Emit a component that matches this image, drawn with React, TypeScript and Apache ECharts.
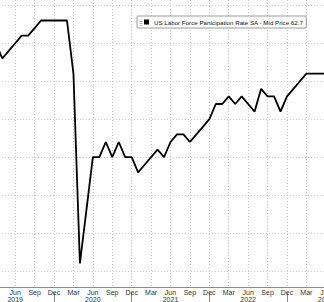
import React, { useEffect, useRef } from "react";
import * as echarts from "echarts";

const MONTHS = ["Jan", "Feb", "Mar", "Apr", "May", "Jun", "Jul", "Aug", "Sep", "Oct", "Nov", "Dec"];

// Monthly categories Mar 2019 .. Jun 2023
const categories: string[] = [
  "2019-03", "2019-04", "2019-05", "2019-06", "2019-07", "2019-08", "2019-09", "2019-10", "2019-11", "2019-12",
  "2020-01", "2020-02", "2020-03", "2020-04", "2020-05", "2020-06", "2020-07", "2020-08", "2020-09", "2020-10", "2020-11", "2020-12",
  "2021-01", "2021-02", "2021-03", "2021-04", "2021-05", "2021-06", "2021-07", "2021-08", "2021-09", "2021-10", "2021-11", "2021-12",
  "2022-01", "2022-02", "2022-03", "2022-04", "2022-05", "2022-06", "2022-07", "2022-08", "2022-09", "2022-10", "2022-11", "2022-12",
  "2023-01", "2023-02", "2023-03", "2023-04", "2023-05", "2023-06",
];

const participation: number[] = [
  63.0, 62.8, 62.9, 63.0, 63.1, 63.1, 63.2, 63.3, 63.3, 63.3,
  63.3, 63.3, 62.6, 60.1, 60.8, 61.5, 61.5, 61.7, 61.5, 61.7, 61.5, 61.5,
  61.3, 61.4, 61.5, 61.6, 61.5, 61.7, 61.8, 61.8, 61.7, 61.8, 61.9, 62.0,
  62.2, 62.2, 62.3, 62.2, 62.3, 62.2, 62.1, 62.4, 62.3, 62.3, 62.1, 62.3,
  62.4, 62.5, 62.6, 62.6, 62.6, 62.6,
];

const gridValues: number[] = [60.0, 60.5, 61.0, 61.5, 62.0, 62.5, 63.0, 63.5];

const seriesName = "US Labor Force Participation Rate SA - Mid Price 62.7";

const monthOf = (c: string) => parseInt(c.slice(5, 7), 10);
const isQuarterLabel = (c: string) => [3, 6, 9, 12].includes(monthOf(c));

export default function App() {
  const ref = useRef<HTMLDivElement>(null);
  useEffect(() => {
    if (!ref.current) return;
    const chart = echarts.init(ref.current, undefined, { renderer: "svg" });
    const font = "Liberation Sans";
    chart.setOption({
      animation: false,
      backgroundColor: "#ffffff",
      grid: { left: -4.2, right: -1.8, top: 0, bottom: 15, containLabel: false, outerBoundsMode: "none" },
      xAxis: [
        {
          type: "category",
          data: categories,
          boundaryGap: false,
          axisLine: { show: true, lineStyle: { color: "#8a8a8a", width: 1 } },
          axisTick: { show: false },
          axisLabel: {
            interval: (i: number, v: string) => i > 0 && isQuarterLabel(v),
            formatter: (v: string) => {
              const m = monthOf(v);
              const name = MONTHS[m - 1];
              return m === 6 ? name + "\n" + v.slice(0, 4) : name;
            },
            fontSize: 7,
            lineHeight: 7,
            color: "#333",
            fontFamily: font,
            margin: 2,
            hideOverlap: false,
          },
          splitLine: {
            show: true,
            interval: (i: number, v: string) => isQuarterLabel(v),
            lineStyle: { color: "#c8c8c8", type: [1, 2], width: 1 },
          },
        },
        {
          type: "category",
          data: categories,
          boundaryGap: false,
          position: "bottom",
          offset: 6,
          axisLine: { show: false },
          axisLabel: { show: false },
          splitLine: { show: false },
          axisTick: {
            show: true,
            interval: (i: number, v: string) => monthOf(v) === 12,
            length: 10,
            lineStyle: { color: "#8a8a8a", width: 1 },
          },
        },
      ],
      yAxis: {
        type: "value",
        min: 59.79,
        max: 63.57,
        axisLine: { show: false },
        axisTick: { show: false },
        axisLabel: { show: false },
        splitLine: { show: false },
      },
      legend: {
        show: true,
        left: 137,
        top: 16,
        padding: [3, 3, 3, 7],
        borderColor: "#9a9a9a",
        borderWidth: 1,
        borderRadius: 1,
        backgroundColor: "#ffffff",
        itemWidth: 5,
        itemHeight: 5,
        itemGap: 2,
        icon: "rect",
        textStyle: { fontSize: 6.2, color: "#111", fontFamily: font },
        data: [{ name: seriesName, itemStyle: { color: "#000" } }],
      },
      graphic: [
        { type: "line", shape: { x1: 139.5, y1: 21.5, x2: 142.5, y2: 21.5 }, style: { stroke: "#aaa", lineWidth: 0.8 }, z: 100 },
        { type: "line", shape: { x1: 139.5, y1: 23.5, x2: 142.5, y2: 23.5 }, style: { stroke: "#aaa", lineWidth: 0.8 }, z: 100 },
        { type: "line", shape: { x1: 139.5, y1: 25.5, x2: 142.5, y2: 25.5 }, style: { stroke: "#aaa", lineWidth: 0.8 }, z: 100 },
      ],
      series: [
        {
          name: seriesName,
          type: "line",
          data: participation,
          showSymbol: false,
          symbol: "none",
          lineStyle: { color: "#000", width: 1.8 },
          itemStyle: { color: "#000" },
          z: 3,
          markLine: {
            silent: true,
            symbol: "none",
            label: { show: false },
            lineStyle: { color: "#c8c8c8", type: [1, 2], width: 1 },
            data: gridValues.map((v) => ({ yAxis: v })),
            z: 1,
          },
        },
      ],
    });
    return () => chart.dispose();
  }, []);
  return (
    <div
      ref={ref}
      style={{ position: "fixed", left: 0, top: 0, width: 324, height: 302 }}
    />
  );
}
